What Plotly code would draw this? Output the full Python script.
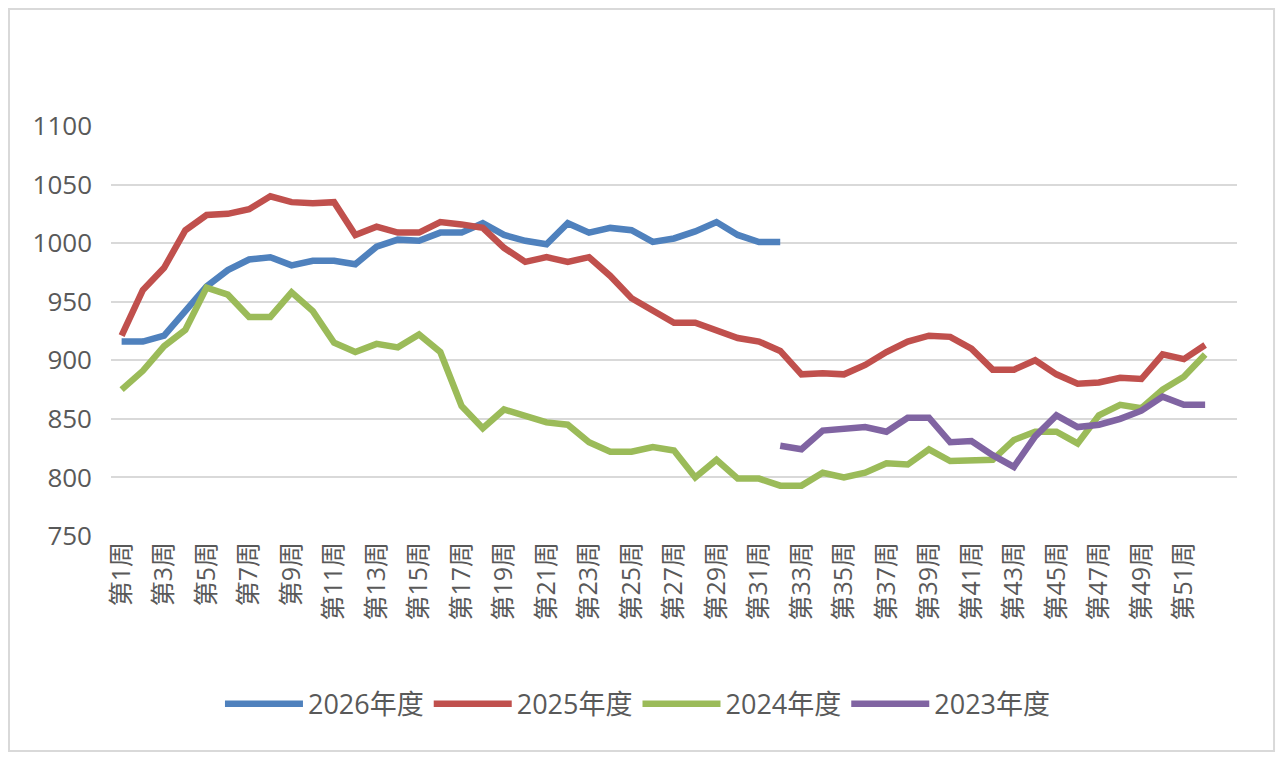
import plotly.graph_objects as go

# 周次
weeks = [f"第{i}周" for i in range(1, 53)]

# 各年度数据（从图上读取，缺失用 None）
y2026 = [916, 916, 921, 942, 963, 977, 986, 988, 981, 985, 985, 982, 997, 1003, 1002, 1009,
         1009, 1017, 1007, 1002, 999, 1017, 1009, 1013, 1011, 1001, 1004, 1010, 1018, 1007,
         1001, 1001]
y2025 = [921, 960, 979, 1011, 1024, 1025, 1029, 1040, 1035, 1034, 1035, 1007, 1014, 1009,
         1009, 1018, 1016, 1013, 996, 984, 988, 984, 988, 972, 953, 942, 932, 932, 926, 919,
         916, 908, 888, 889, 888, 896, 907, 916, 921, 920, 910, 892, 892, 900, 888, 880, 881,
         885, 884, 905, 901, 913]
y2024 = [875, 891, 912, 926, 962, 956, 937, 937, 958, 942, 915, 907, 914, 911, 922, 907,
         861, 842, 858, 852, 847, 845, 830, 822, 822, 826, 823, 800, 815, 799, 799, 793, 793,
         804, 800, 804, 812, 811, 824, 814, 814, 815, 832, 839, 839, 829, 853, 862, 859, 875,
         886, 905]
y2023 = [None] * 31 + [827, 824, 840, 842, 843, 839, 851, 851, 830, 831, 819, 809, 835, 853,
                       843, 845, 850, 857, 869, 862, 862]

series = [
    ("2026年度", y2026, "#4F81BD"),
    ("2025年度", y2025, "#C0504D"),
    ("2024年度", y2024, "#9BBB59"),
    ("2023年度", y2023, "#8064A2"),
]

FONT = "Open Sans, Noto Sans CJK SC, sans-serif"
GREY = "#595959"

fig = go.Figure()
for name, vals, color in series:
    fig.add_trace(go.Scatter(
        x=weeks[:len(vals)],
        y=vals,
        name=name,
        mode="lines",
        line=dict(color=color, width=6.5),
    ))

# 外框（页面自带 8px 边距，这里按此偏移）
fig.add_shape(type="rect", xref="paper", yref="paper",
              x0=-0.0906, x1=1.0329, y0=-0.5244, y1=1.2854,
              line=dict(color="#D9D9D9", width=2), fillcolor="rgba(0,0,0,0)")

fig.update_layout(
    width=1276,
    height=755,
    paper_bgcolor="white",
    plot_bgcolor="white",
    font=dict(family=FONT, color=GREY, size=26),
    margin=dict(l=103, r=47, t=118, b=227),
    xaxis=dict(
        type="category",
        categoryorder="array",
        categoryarray=weeks,
        range=[-0.5, 52.5],
        tickvals=weeks[::2],
        tickangle=-90,
        tickfont=dict(size=25, color=GREY),
        showgrid=False,
        showline=False,
        ticks="",
    ),
    yaxis=dict(
        range=[750, 1100],
        dtick=50,
        gridcolor="#D9D9D9",
        gridwidth=2,
        zeroline=False,
        showline=False,
        tickfont=dict(size=26, color=GREY),
        ticks="",
        ticklabelstandoff=18,
    ),
    legend=dict(
        orientation="h",
        x=0.468,
        xanchor="center",
        y=-0.41,
        yanchor="middle",
        font=dict(size=27, color=GREY),
        itemwidth=78,
    ),
    showlegend=True,
)

fig.write_html("out.html")
